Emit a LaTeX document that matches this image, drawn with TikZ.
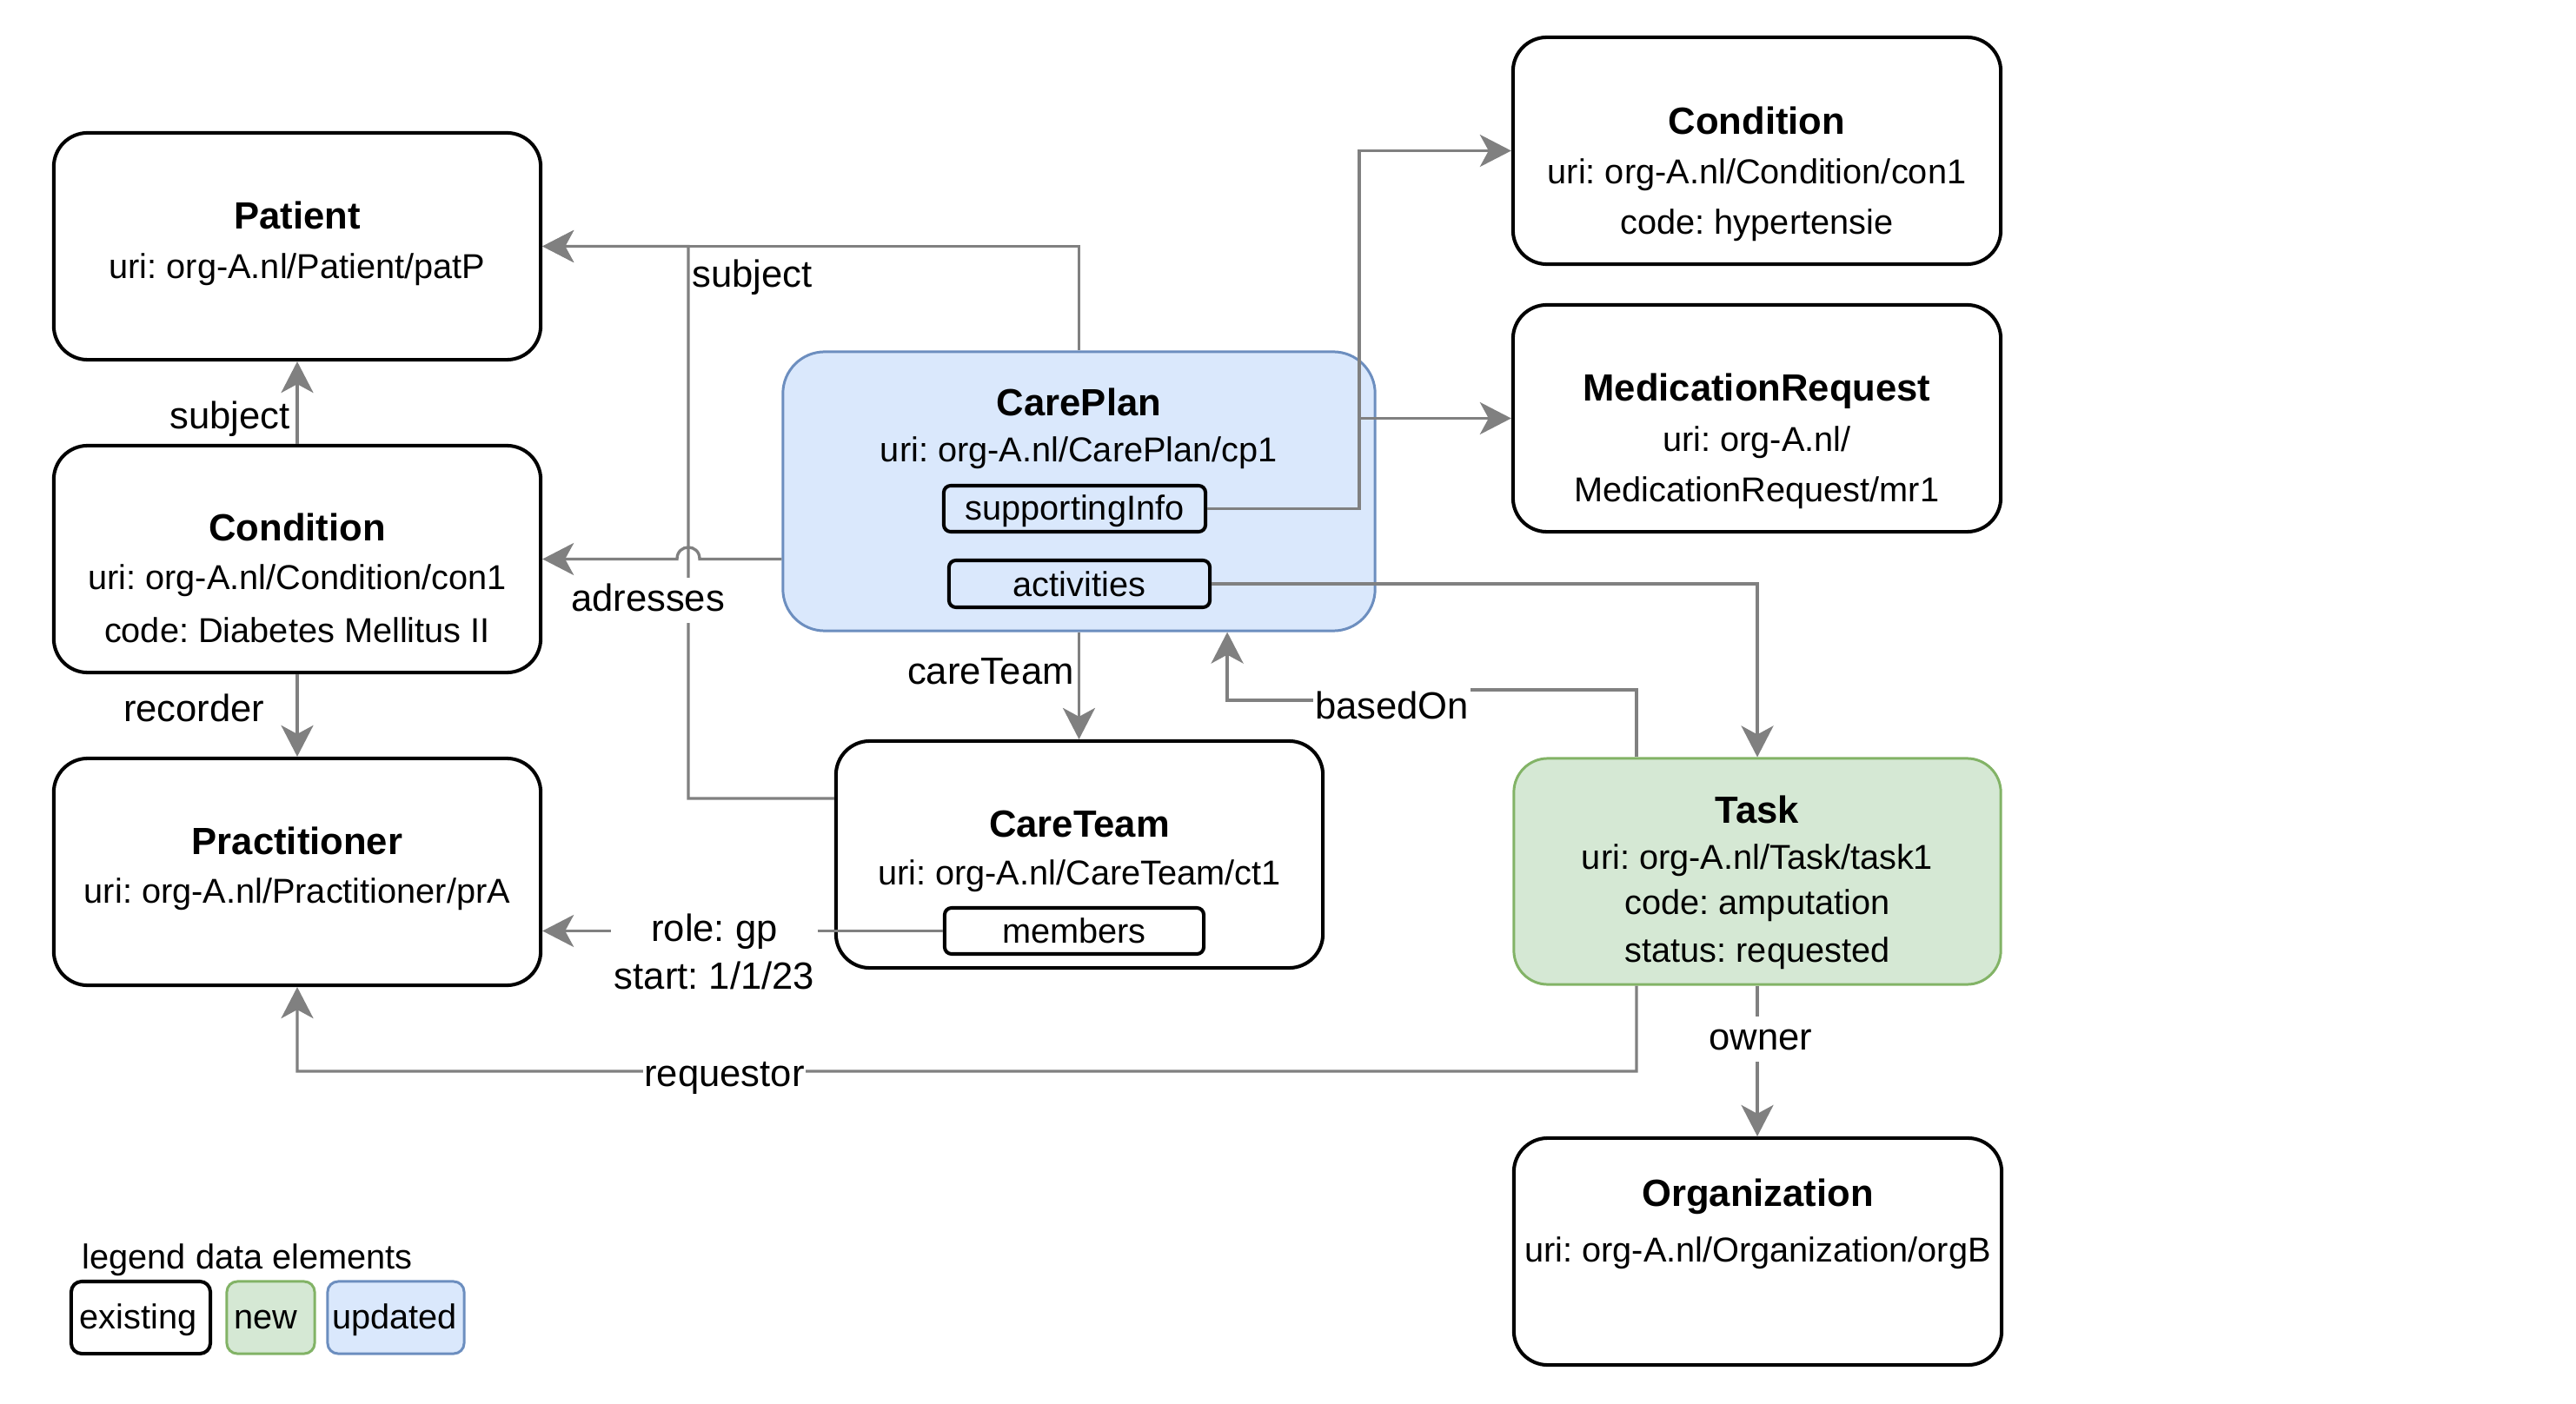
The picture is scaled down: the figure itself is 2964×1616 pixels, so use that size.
\documentclass[tikz,border=0pt]{standalone}
\usepackage{fontspec}
\setmainfont{Liberation Sans}
\usetikzlibrary{arrows.meta}
\definecolor{egray}{HTML}{808080}
\definecolor{bluefill}{HTML}{DAE8FC}
\definecolor{blueline}{HTML}{6C8EBF}
\definecolor{greenfill}{HTML}{D5E8D4}
\definecolor{greenline}{HTML}{82B366}
\newcommand\fsN{\fontsize{11.3}{13.5}\selectfont}
\newcommand\fsL{\fontsize{12.4}{14.8}\selectfont}
\frenchspacing
\begin{document}
\begin{tikzpicture}[x=0.01cm,y=-0.01cm,
  box/.style={draw=black, line width=1.15pt, fill=white, rounded corners=0.39cm, minimum width=5.6cm, minimum height=2.61cm, inner sep=0},
  cpbox/.style={draw=blueline, fill=bluefill, line width=0.85pt, rounded corners=0.48cm, minimum width=6.81cm, minimum height=3.21cm, inner sep=0},
  taskbox/.style={box, draw=greenline, fill=greenfill, line width=0.85pt},
  field/.style={draw=black, line width=1.15pt, rounded corners=0.08cm, minimum height=0.53cm, inner sep=0, font=\fsN},
  legbox/.style={rounded corners=0.12cm, minimum height=0.83cm, inner sep=0},
  ttl/.style={anchor=base, inner sep=0, font=\fsL\bfseries},
  txt/.style={anchor=base, inner sep=0, font=\fsN},
  lbl/.style={anchor=base, fill=white, inner xsep=0.5pt, inner ysep=1pt, text height=9.9pt, text depth=2.8pt, font=\fsL},
  arr/.style={draw=egray, line width=0.95pt, -{Stealth[length=0.36cm,width=0.37cm,inset=0.1cm]}}
]
\useasboundingbox (0,0) rectangle (2964,1616);

% boxes
\node[box] (pat) at (342,283.5) {};
\node[box] (conL) at (342,643.5) {};
\node[box] (prac) at (342,1003.5) {};
\node[cpbox] (cp) at (1241.5,565.5) {};
\node[box] (ct) at (1242,983.5) {};
\node[box, minimum width=5.61cm] (conR) at (2021.5,173.5) {};
\node[box, minimum width=5.61cm] (mr) at (2021.5,481.5) {};
\node[taskbox, minimum height=2.60cm] (task) at (2022,1003) {};
\node[box, minimum width=5.61cm] (org) at (2022.5,1440.5) {};
\node[field, minimum width=3.01cm, text height=0.33cm, text depth=0.08cm] (si) at (1236.5,585.5) {supportingInfo};
\node[field, minimum width=3.00cm, minimum height=0.54cm] (act) at (1242,672) {activities};
\node[field, minimum width=2.98cm] (mem) at (1236,1071.5) {members};

% legend
\node[legbox, draw=black, line width=1.15pt, minimum width=1.6cm] (lgE) at (162,1516.5) {};
\node[legbox, draw=greenline, fill=greenfill, line width=0.85pt, minimum width=1.01cm] (lgN) at (311.5,1516.5) {};
\node[legbox, draw=blueline, fill=bluefill, line width=0.85pt, minimum width=1.57cm] (lgU) at (455.5,1516.5) {};
\node[txt, anchor=base west] (lgT) at (94,1460) {legend data elements};
\node[txt] (lgEt) at (159,1529) {existing};
\node[txt, anchor=base west] (lgNt) at (269,1529) {new};
\node[txt] (lgUt) at (454,1529) {updated};

% box texts
\node[ttl] (pat-t) at (342,264) {Patient};
\node[txt] (pat-u) at (342,321) {uri: org-A.nl/Patient/patP};
\node[ttl] (conL-t) at (342,623) {Condition};
\node[txt] (conL-u) at (342,679) {uri: org-A.nl/Condition/con1};
\node[txt] (conL-c) at (342,739) {code: Diabetes Mellitus II};
\node[ttl] (prac-t) at (342,983) {Practitioner};
\node[txt] (prac-u) at (342,1039) {uri: org-A.nl/Practitioner/prA};
\node[ttl] (cp-t) at (1241.5,479) {CarePlan};
\node[txt] (cp-u) at (1241.5,532) {uri: org-A.nl/CarePlan/cp1};
\node[ttl] (ct-t) at (1242,963) {CareTeam};
\node[txt] (ct-u) at (1242,1018) {uri: org-A.nl/CareTeam/ct1};
\node[ttl] (conR-t) at (2021.5,155) {Condition};
\node[txt] (conR-u) at (2021.5,212) {uri: org-A.nl/Condition/con1};
\node[txt] (conR-c) at (2021.5,270) {code: hypertensie};
\node[ttl] (mr-t) at (2021.5,462) {MedicationRequest};
\node[txt] (mr-u) at (2021.5,520) {uri: org-A.nl/};
\node[txt] (mr-u2) at (2021.5,578) {MedicationRequest/mr1};
\node[ttl] (task-t) at (2022,947) {Task};
\node[txt] (task-u) at (2022,1000) {uri: org-A.nl/Task/task1};
\node[txt] (task-c) at (2022,1052) {code: amputation};
\node[txt] (task-s) at (2022,1107) {status: requested};
\node[ttl] (org-t) at (2022.5,1388) {Organization};
\node[txt] (org-u) at (2022.5,1452) {uri: org-A.nl/Organization/orgB};

% helper coordinates
\coordinate (bus1) at (792,919);
\coordinate (jR) at (805,643.5);
\coordinate (jL) at (779,643.5);
\coordinate (bo1) at (1600,794);
\coordinate (bo2) at (1600,806);
\coordinate (sibus) at (1564,585.5);
\coordinate (rq) at (1883,1233);

% connectors
\draw[arr] (cp.north) |- (pat.east);
\draw[arr] ([yshift=0.645cm]ct.west) -- (bus1) |- (pat.east);
\draw[arr] (cp.west |- conL.east) -- (jR) .. controls ([yshift=0.18cm]jR) and ([yshift=0.18cm]jL) .. (jL) -- (conL.east);
\draw[arr] (conL.north) -- (pat.south);
\draw[arr] (conL.south) -- (prac.north);
\draw[arr] (cp.south) -- (cp.south |- ct.north);
\draw[arr] ([xshift=-1.39cm]task.north) |- (bo1) -- (bo2) -| ([xshift=1.705cm]cp.south);
\draw[arr] (act.east) -| (task.north);
\draw[arr] (si.east) -- (sibus) |- (conR.west);
\draw[arr] (si.east) -- (sibus) |- (mr.west);
\draw[arr] (mem.west) -- (mem.west -| prac.east);
\draw[arr] ([xshift=-1.39cm]task.south) -- (rq) -| (prac.south);
\draw[arr] (task.south) -- (task.south |- org.north);

% edge labels
\node[lbl, anchor=base west] (l-subj1) at (794,331) {subject};
\node[lbl, anchor=base east] (l-subj2) at (336,494) {subject};
\node[lbl] (l-adr) at (745.5,703.6) {adresses};
\node[lbl, anchor=base east] (l-rec) at (307,830) {recorder};
\node[lbl, anchor=base east] (l-ct) at (1238,787) {careTeam};
\node[lbl] (l-bo) at (1601.5,827) {basedOn};
\node[lbl, minimum width=2.38cm] (l-role) at (822,1083) {role: gp};
\node[lbl] (l-start) at (822,1138) {start: 1/1/23};
\node[lbl] (l-req) at (833.5,1250) {requestor};
\node[lbl] (l-own) at (2026,1208.5) {owner};
\end{tikzpicture}
\end{document}
